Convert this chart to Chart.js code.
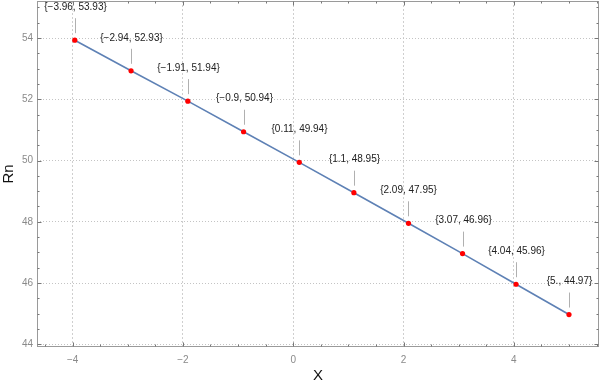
<!DOCTYPE html>
<html>
<head>
<meta charset="utf-8">
<script src="https://cdn.jsdelivr.net/npm/chart.js@4/dist/chart.umd.min.js"></script>
<style>
html, body { margin: 0; padding: 0; background: #fff; }
#wrap { width: 600px; height: 388px; }
</style>
</head>
<body>
<div id="wrap"><canvas id="chart-rn"></canvas></div>
<script>
/* data */
var xValues = [-3.96, -2.94, -1.91, -0.9, 0.11, 1.1, 2.09, 3.07, 4.04, 5.0];
var rnValues = [53.93, 52.93, 51.94, 50.94, 49.94, 48.95, 47.95, 46.96, 45.96, 44.97];
var pointLabels = ['{\u22123.96, 53.93}', '{\u22122.94, 52.93}', '{\u22121.91, 51.94}', '{\u22120.9, 50.94}',
    '{0.11, 49.94}', '{1.1, 48.95}', '{2.09, 47.95}', '{3.07, 46.96}', '{4.04, 45.96}', '{5., 44.97}'];
var xTicks = [-4, -2, 0, 2, 4];
var yTicks = [44, 46, 48, 50, 52, 54];

var fontFamily = '"Liberation Sans", Arial, sans-serif';
var frameColor = '#9a9a9a';

function fmt(v) {
    return String(v).replace('-', '\u2212');
}

/* frame, inward ticks and the callout labels */
var framePlugin = {
    id: 'frame',
    afterDatasetsDraw: function (chart) {
        var ctx = chart.ctx;
        var xs = chart.scales.x, ys = chart.scales.y;
        ctx.save();
        ctx.font = '10px ' + fontFamily;
        ctx.textAlign = 'center';
        ctx.textBaseline = 'middle';
        for (var i = 0; i < xValues.length; i++) {
            var px = Math.round(xs.getPixelForValue(xValues[i])) + 0.5;
            var py = ys.getPixelForValue(rnValues[i]);
            ctx.strokeStyle = '#b0b0b0';
            ctx.lineWidth = 1;
            ctx.beginPath();
            ctx.moveTo(px, py - 7);
            ctx.lineTo(px, py - 22);
            ctx.stroke();
            ctx.fillStyle = '#222';
            ctx.fillText(pointLabels[i], px, py - 33);
        }
        ctx.restore();
    },
    afterDraw: function (chart) {
        var ctx = chart.ctx;
        var a = chart.chartArea;
        var xs = chart.scales.x, ys = chart.scales.y;
        var l = a.left + 0.5, r = a.right - 0.5, t = a.top + 0.5, b = a.bottom - 0.5;
        ctx.save();
        ctx.strokeStyle = frameColor;
        ctx.lineWidth = 1;
        ctx.strokeRect(l, t, r - l, b - t);
        ctx.strokeStyle = '#777';
        ctx.beginPath();
        for (var k = -10; k <= 12; k++) {
            var v = k * 0.5;
            if (v < xs.min || v > xs.max) continue;
            var len = (k % 4 === 0) ? 4 : 2;
            var px = Math.round(xs.getPixelForValue(v)) + 0.5;
            ctx.moveTo(px, b); ctx.lineTo(px, b - len);
            ctx.moveTo(px, t); ctx.lineTo(px, t + len);
        }
        for (var m = 86; m <= 112; m++) {
            var w = m * 0.5;
            if (w < ys.min || w > ys.max) continue;
            var len2 = (m % 4 === 0) ? 4 : 2;
            var py = Math.round(ys.getPixelForValue(w)) + 0.5;
            ctx.moveTo(l, py); ctx.lineTo(l + len2, py);
            ctx.moveTo(r, py); ctx.lineTo(r - len2, py);
        }
        ctx.stroke();
        ctx.restore();
    }
};

function noPadding(axis) {
    axis.paddingTop = 0;
    axis.paddingBottom = 0;
    axis.paddingLeft = 0;
    axis.paddingRight = 0;
}

var points = xValues.map(function (x, i) { return { x: x, y: rnValues[i] }; });

var rnChart = new Chart(document.getElementById('chart-rn').getContext('2d'), {
    type: 'line',
    data: {
        datasets: [{
            data: points,
            borderColor: '#5e81b5',
            borderWidth: 1.6,
            pointBackgroundColor: '#ff0000',
            pointBorderColor: '#ff0000',
            pointRadius: 2.6,
            pointBorderWidth: 0,
            tension: 0,
            fill: false
        }]
    },
    options: {
        responsive: true,
        maintainAspectRatio: false,
        animation: false,
        plugins: {
            legend: { display: false },
            tooltip: { enabled: false }
        },
        layout: {
            autoPadding: false,
            padding: { left: 0, right: 1, top: 1, bottom: 0 }
        },
        scales: {
            x: {
                type: 'linear',
                min: -4.645,
                max: 5.544,
                afterBuildTicks: function (axis) {
                    axis.ticks = xTicks.map(function (v) { return { value: v }; });
                },
                afterFit: function (axis) { axis.height = 41; noPadding(axis); },
                grid: { color: '#cfcfcf', drawTicks: false },
                border: { display: false, dash: [2, 2] },
                ticks: {
                    padding: 7,
                    color: '#8a8a8a',
                    font: { family: fontFamily, size: 10 },
                    callback: function (v) { return fmt(v); }
                },
                title: {
                    display: true,
                    text: 'X',
                    color: '#111',
                    padding: { top: 0, bottom: 3 },
                    font: { family: fontFamily, size: 15 }
                }
            },
            y: {
                type: 'linear',
                min: 43.91,
                max: 55.21,
                afterBuildTicks: function (axis) {
                    axis.ticks = yTicks.map(function (v) { return { value: v }; });
                },
                afterFit: function (axis) { axis.width = 37; noPadding(axis); },
                grid: { color: '#c4c4c4', drawTicks: false },
                border: { display: false, dash: [1, 2] },
                ticks: {
                    padding: 4,
                    color: '#8a8a8a',
                    font: { family: fontFamily, size: 10 },
                    callback: function (v) { return fmt(v); }
                },
                title: {
                    display: true,
                    text: 'Rn',
                    color: '#111',
                    padding: { top: 0, bottom: 0 },
                    font: { family: fontFamily, size: 15 }
                }
            }
        }
    },
    plugins: [framePlugin]
});
</script>
</body>
</html>
